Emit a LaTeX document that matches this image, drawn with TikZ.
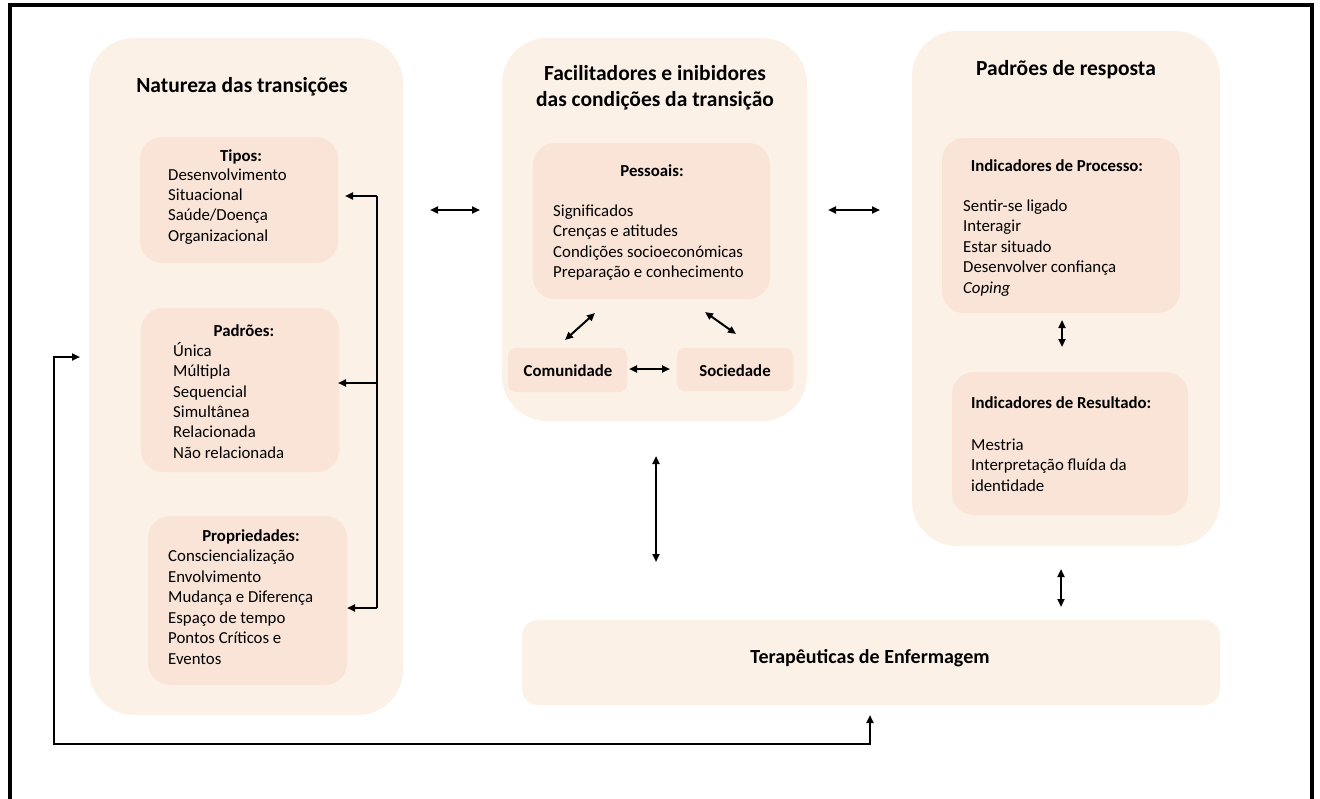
\documentclass[tikz,border=0pt]{standalone}
\usepackage{fontspec}
\setmainfont{Carlito}
\usetikzlibrary{arrows.meta}
\definecolor{outerc}{RGB}{252,241,231}
\definecolor{innerc}{RGB}{249,228,215}
\begin{document}
\begin{tikzpicture}[x=1pt,y=-1pt,
 bigbox/.style={fill=outerc, rounded corners=45pt, inner sep=0pt, outer sep=0pt, anchor=north west},
 ibox/.style={fill=innerc, rounded corners=22pt, inner sep=0pt, outer sep=0pt, anchor=north west},
 sbox/.style={fill=innerc, rounded corners=8pt, inner sep=0pt, outer sep=0pt, anchor=north west},
 tbox/.style={fill=outerc, rounded corners=16pt, inner sep=0pt, outer sep=0pt, anchor=north west},
 ttl/.style={font=\fontsize{21.5}{25}\selectfont\bfseries, inner sep=0pt, anchor=base},
 hdr/.style={font=\fontsize{16.8}{20}\selectfont\bfseries, inner sep=0pt, anchor=base},
 txt/.style={font=\fontsize{16.8}{20}\selectfont, inner sep=0pt, anchor=base west},
 tip/.tip={Triangle[length=8pt,width=7pt]},
 conn/.style={line width=2pt, -tip},
 dconn/.style={line width=2pt, tip-tip},
 plain/.style={line width=2pt},
]
\useasboundingbox (0,0) rectangle (1320,798);
% frame
\draw[line width=4pt, line join=miter] (10,830) -- (10,5) -- (1312,5) -- (1312,830);

% big boxes
\node[bigbox, minimum width=314pt, minimum height=677pt] (L) at (89,38) {};
\node[bigbox, minimum width=305pt, minimum height=383pt] (M) at (502,38) {};
\node[bigbox, minimum width=308pt, minimum height=515pt] (R) at (912,31) {};
\node[tbox, minimum width=698pt, minimum height=85pt] (T) at (522,620) {};

% inner boxes
\node[ibox, minimum width=198pt, minimum height=126pt] (tipos) at (140,137) {};
\node[ibox, minimum width=198pt, minimum height=164pt] (padroes) at (141,308) {};
\node[ibox, minimum width=199pt, minimum height=169pt] (props) at (148,516) {};
\node[ibox, minimum width=237pt, minimum height=156pt] (pess) at (533,143) {};
\node[sbox, minimum width=119pt, minimum height=44pt] (com) at (508,348) {};
\node[sbox, minimum width=116pt, minimum height=43pt] (soc) at (677,348) {};
\node[ibox, minimum width=238pt, minimum height=175pt] (proc) at (942,138) {};
\node[ibox, minimum width=236pt, minimum height=143pt] (res) at (952,372) {};

% titles
\node[ttl] (Lt) at (242,92) {Natureza das transições};
\node[ttl] (Mt1) at (655,80) {Facilitadores e inibidores};
\node[ttl] (Mt2) at (655,106) {das condições da transição};
\node[ttl] (Rt) at (1066,75) {Padrões de resposta};
\node[ttl, font=\fontsize{20}{24}\selectfont\bfseries] (Tt) at (870,663) {Terapêuticas de Enfermagem};

% Tipos
\node[hdr] (h1) at (241,161) {Tipos:};
\node[txt] (a1) at (168,180) {Desenvolvimento};
\node[txt] (a2) at (168,200.5) {Situacional};
\node[txt] (a3) at (168,220.5) {Saúde/Doença};
\node[txt] (a4) at (168,241) {Organizacional};

% Padroes
\node[hdr] (h2) at (244,336) {Padrões:};
\node[txt] (b1) at (173,356) {Única};
\node[txt] (b2) at (173,376.5) {Múltipla};
\node[txt] (b3) at (173,397) {Sequencial};
\node[txt] (b4) at (173,417) {Simultânea};
\node[txt] (b5) at (173,437.5) {Relacionada};
\node[txt] (b6) at (173,458) {Não relacionada};

% Propriedades
\node[hdr] (h3) at (251,541) {Propriedades:};
\node[txt] (c1) at (168,561.5) {Consciencialização};
\node[txt] (c2) at (168,582) {Envolvimento};
\node[txt] (c3) at (168,602.5) {Mudança e Diferença};
\node[txt] (c4) at (168,623) {Espaço de tempo};
\node[txt] (c5) at (168,643.5) {Pontos Críticos e};
\node[txt] (c6) at (168,664) {Eventos};

% Pessoais
\node[hdr] (h4) at (652,176) {Pessoais:};
\node[txt] (d1) at (553,216) {Significados};
\node[txt] (d2) at (553,236.5) {Crenças e atitudes};
\node[txt] (d3) at (553,257) {Condições socioeconómicas};
\node[txt] (d4) at (553,277.5) {Preparação e conhecimento};

\node[hdr] (comt) at (568,376) {Comunidade};
\node[hdr] (soct) at (735,376) {Sociedade};

% Processo
\node[hdr] (h5) at (1057,171) {Indicadores de Processo:};
\node[txt] (e1) at (963,211) {Sentir-se ligado};
\node[txt] (e2) at (963,231.5) {Interagir};
\node[txt] (e3) at (963,252) {Estar situado};
\node[txt] (e4) at (963,272) {Desenvolver confiança};
\node[txt] (e5) at (963,293) {\itshape Coping};

% Resultado
\node[hdr, anchor=base west] (h6) at (971,408) {Indicadores de Resultado:};
\node[txt] (f1) at (971,450) {Mestria};
\node[txt] (f2) at (971,470.5) {Interpretação fluída da};
\node[txt] (f3) at (971,491) {identidade};

% connectors
\coordinate (busT) at (377,196);
\coordinate (busM) at (377,383);
\coordinate (busB) at (377,608);
\coordinate (tT) at (345,196);
\coordinate (tM) at (338,383);
\coordinate (tB) at (347,608);
\draw[plain] (busT) -- (busB);
\draw[conn] (busT) -- (tT);
\draw[conn] (busM) -- (tM);
\draw[conn] (busB) -- (tB);

\coordinate (lm1) at (430,210); \coordinate (lm2) at (480,210);
\draw[dconn] (lm1) -- (lm2);
\coordinate (mr1) at (828,210); \coordinate (mr2) at (880,210);
\draw[dconn] (mr1) -- (mr2);

\coordinate (cs1) at (629,369); \coordinate (cs2) at (670,369);
\draw[dconn] (cs1) -- (cs2);
\coordinate (dg1a) at (565,340); \coordinate (dg1b) at (595,313);
\draw[dconn] (dg1a) -- (dg1b);
\coordinate (dg2a) at (705,312); \coordinate (dg2b) at (736,334);
\draw[dconn] (dg2a) -- (dg2b);

\coordinate (mv1) at (656,456); \coordinate (mv2) at (656,562);
\draw[dconn] (mv1) -- (mv2);
\coordinate (rv1) at (1062,320); \coordinate (rv2) at (1062,347);
\draw[dconn] (rv1) -- (rv2);
\coordinate (rt1) at (1061,569); \coordinate (rt2) at (1061,607);
\draw[dconn] (rt1) -- (rt2);

\coordinate (fbL) at (80,357);
\coordinate (fbT) at (870,715);
\draw[dconn] (fbL) -- (54,357) -- (54,744) -- (870,744) -- (fbT);
\end{tikzpicture}
\end{document}
